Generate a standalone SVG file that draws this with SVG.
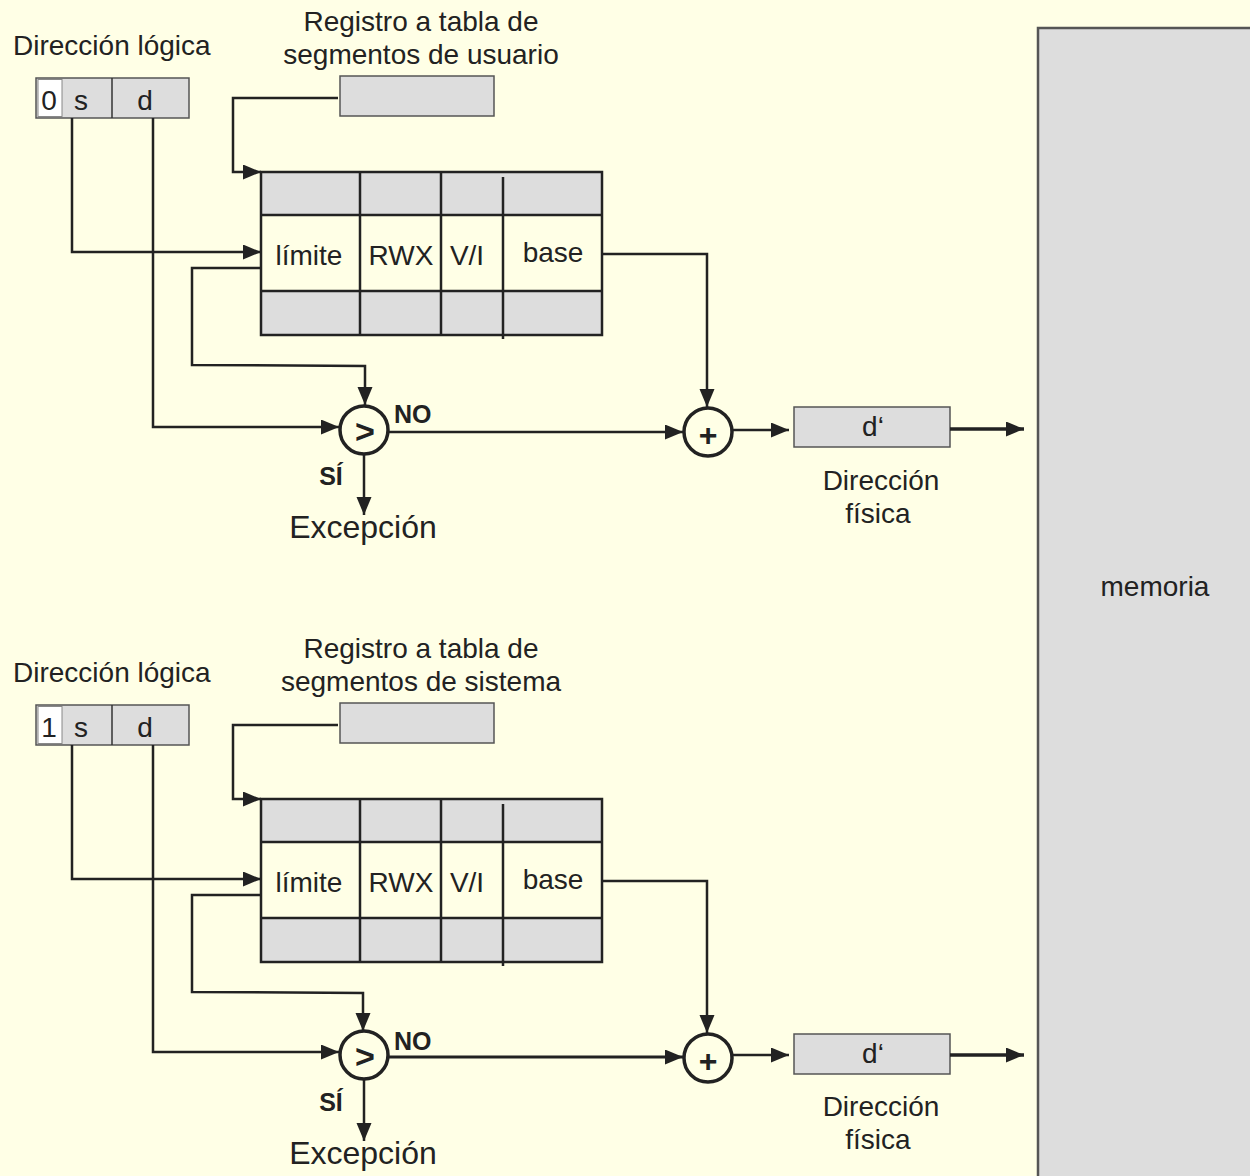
<svg xmlns="http://www.w3.org/2000/svg" width="1250" height="1176" viewBox="0 0 1250 1176">
<defs>
<marker id="ah" markerUnits="userSpaceOnUse" markerWidth="20" markerHeight="16" refX="18" refY="7.5" orient="auto">
<path d="M0,0 L18,7.5 L0,15 z" fill="#222"/>
</marker>
<style>
text{font-family:"Liberation Sans",Arial,sans-serif;fill:#222;}
.t28{font-size:28px;}
.t32{font-size:32px;}
.b{font-size:25px;font-weight:bold;}
.gray{fill:#dddddd;stroke:#555;stroke-width:1.5;}
.tab{fill:none;stroke:#222;stroke-width:2.5;}
.row{fill:#dddddd;stroke:none;}
.ln{fill:none;stroke:#222;stroke-width:2.5;}
.arr{fill:none;stroke:#222;stroke-width:2.5;marker-end:url(#ah);}
.out{fill:none;stroke:#222;stroke-width:3.5;marker-end:url(#ah);}
.circ{fill:none;stroke:#222;stroke-width:3.5;}
</style>
</defs>
<rect x="0" y="0" width="1250" height="1176" fill="#ffffe6"/>

<g id="memoria">
<rect x="1038" y="28" width="220" height="1160" fill="#dddddd" stroke="#555" stroke-width="2.5"/>
<text class="t28" x="1155" y="596" text-anchor="middle">memoria</text>
</g>

<!-- ===== Top (usuario) ===== -->
<g id="dir-logica-1">
<text class="t28" x="13" y="55">Dirección lógica</text>
<rect class="gray" x="36" y="78" width="153" height="40"/>
<rect x="38" y="79.5" width="24" height="37" fill="#ffffff" stroke="#888" stroke-width="1"/>
<line x1="112" y1="78" x2="112" y2="118" stroke="#333" stroke-width="1.5"/>
<text class="t28" x="49" y="110" text-anchor="middle">0</text>
<text class="t28" x="81" y="110" text-anchor="middle">s</text>
<text class="t28" x="145" y="110" text-anchor="middle">d</text>
</g>

<g id="registro-usuario">
<text class="t28" x="421" y="31" text-anchor="middle">Registro a tabla de</text>
<text class="t28" x="421" y="64" text-anchor="middle">segmentos de usuario</text>
<rect class="gray" x="340" y="76" width="154" height="40"/>
</g>

<g id="tabla-1">
<rect class="row" x="261" y="172" width="341" height="43"/>
<rect class="row" x="261" y="291" width="341" height="44"/>
<rect class="tab" x="261" y="172" width="341" height="163"/>
<line class="tab" x1="261" y1="215" x2="602" y2="215"/>
<line class="tab" x1="261" y1="291" x2="602" y2="291"/>
<line class="tab" x1="360" y1="172" x2="360" y2="335"/>
<line class="tab" x1="441" y1="172" x2="441" y2="335"/>
<line class="tab" x1="503" y1="177" x2="503" y2="339"/>
<text class="t28" x="309" y="265" text-anchor="middle">límite</text>
<text class="t28" x="401" y="265" text-anchor="middle">RWX</text>
<text class="t28" x="467" y="265" text-anchor="middle">V/I</text>
<text class="t28" x="553" y="262" text-anchor="middle">base</text>
</g>

<g id="comparador-1">
<circle class="circ" cx="364" cy="430" r="24"/>
<text x="365" y="443" text-anchor="middle" style="font-size:34px;font-weight:bold">&gt;</text>
<text class="b" x="394" y="423">NO</text>
<text class="b" x="331" y="485" text-anchor="middle">SÍ</text>
</g>

<g id="excepcion-1">
<text class="t32" x="363" y="538" text-anchor="middle">Excepción</text>
</g>

<g id="sumador-1">
<circle class="circ" cx="708" cy="432" r="24"/>
<text x="708" y="446" text-anchor="middle" style="font-size:32px;font-weight:bold">+</text>
</g>

<g id="dir-fisica-1">
<rect class="gray" x="794" y="407" width="156" height="40"/>
<text class="t28" x="873" y="436" text-anchor="middle">d‘</text>
<text class="t28" x="881" y="490" text-anchor="middle">Dirección</text>
<text class="t28" x="878" y="523" text-anchor="middle">física</text>
</g>

<!-- ===== Bottom (sistema) ===== -->
<g id="dir-logica-2">
<text class="t28" x="13" y="682">Dirección lógica</text>
<rect class="gray" x="36" y="705" width="153" height="40"/>
<rect x="38" y="706.5" width="24" height="37" fill="#ffffff" stroke="#888" stroke-width="1"/>
<line x1="112" y1="705" x2="112" y2="745" stroke="#333" stroke-width="1.5"/>
<text class="t28" x="49" y="737" text-anchor="middle">1</text>
<text class="t28" x="81" y="737" text-anchor="middle">s</text>
<text class="t28" x="145" y="737" text-anchor="middle">d</text>
</g>

<g id="registro-sistema">
<text class="t28" x="421" y="658" text-anchor="middle">Registro a tabla de</text>
<text class="t28" x="421" y="691" text-anchor="middle">segmentos de sistema</text>
<rect class="gray" x="340" y="703" width="154" height="40"/>
</g>

<g id="tabla-2">
<rect class="row" x="261" y="799" width="341" height="43"/>
<rect class="row" x="261" y="918" width="341" height="44"/>
<rect class="tab" x="261" y="799" width="341" height="163"/>
<line class="tab" x1="261" y1="842" x2="602" y2="842"/>
<line class="tab" x1="261" y1="918" x2="602" y2="918"/>
<line class="tab" x1="360" y1="799" x2="360" y2="962"/>
<line class="tab" x1="441" y1="799" x2="441" y2="962"/>
<line class="tab" x1="503" y1="804" x2="503" y2="966"/>
<text class="t28" x="309" y="892" text-anchor="middle">límite</text>
<text class="t28" x="401" y="892" text-anchor="middle">RWX</text>
<text class="t28" x="467" y="892" text-anchor="middle">V/I</text>
<text class="t28" x="553" y="889" text-anchor="middle">base</text>
</g>

<g id="comparador-2">
<circle class="circ" cx="364" cy="1055" r="24"/>
<text x="365" y="1068" text-anchor="middle" style="font-size:34px;font-weight:bold">&gt;</text>
<text class="b" x="394" y="1050">NO</text>
<text class="b" x="331" y="1111" text-anchor="middle">SÍ</text>
</g>

<g id="excepcion-2">
<text class="t32" x="363" y="1164" text-anchor="middle">Excepción</text>
</g>

<g id="sumador-2">
<circle class="circ" cx="708" cy="1058" r="24"/>
<text x="708" y="1072" text-anchor="middle" style="font-size:32px;font-weight:bold">+</text>
</g>

<g id="dir-fisica-2">
<rect class="gray" x="794" y="1034" width="156" height="40"/>
<text class="t28" x="873" y="1063" text-anchor="middle">d‘</text>
<text class="t28" x="881" y="1116" text-anchor="middle">Dirección</text>
<text class="t28" x="878" y="1149" text-anchor="middle">física</text>
</g>

<g id="conectores">
<!-- top -->
<polyline class="arr" points="338,98 233,98 233,172 261,172"/>
<polyline class="arr" points="72,118 72,252 261,252"/>
<polyline class="arr" points="261,268 192,268 192,365 365,366 365,405"/>
<polyline class="arr" points="153,118 153,427 339,427"/>
<polyline class="arr" points="364,454 364,515"/>
<polyline class="arr" points="388,432 683,432"/>
<polyline class="arr" points="602,254 707,254 707,407"/>
<polyline class="arr" points="732,430 789,430"/>
<polyline class="out" points="950,429 1024,429"/>
<!-- bottom -->
<polyline class="arr" points="338,725 233,725 233,799 261,799"/>
<polyline class="arr" points="72,745 72,879 261,879"/>
<polyline class="arr" points="261,895 192,895 192,992 363,993 363,1031"/>
<polyline class="arr" points="153,745 153,1052 339,1052"/>
<polyline class="arr" points="364,1079 364,1141"/>
<polyline class="arr" style="stroke-width:3" points="388,1057 683,1057"/>
<polyline class="arr" points="602,881 707,881 707,1033"/>
<polyline class="arr" points="732,1055 789,1055"/>
<polyline class="out" points="950,1055 1024,1055"/>
</g>
</svg>
